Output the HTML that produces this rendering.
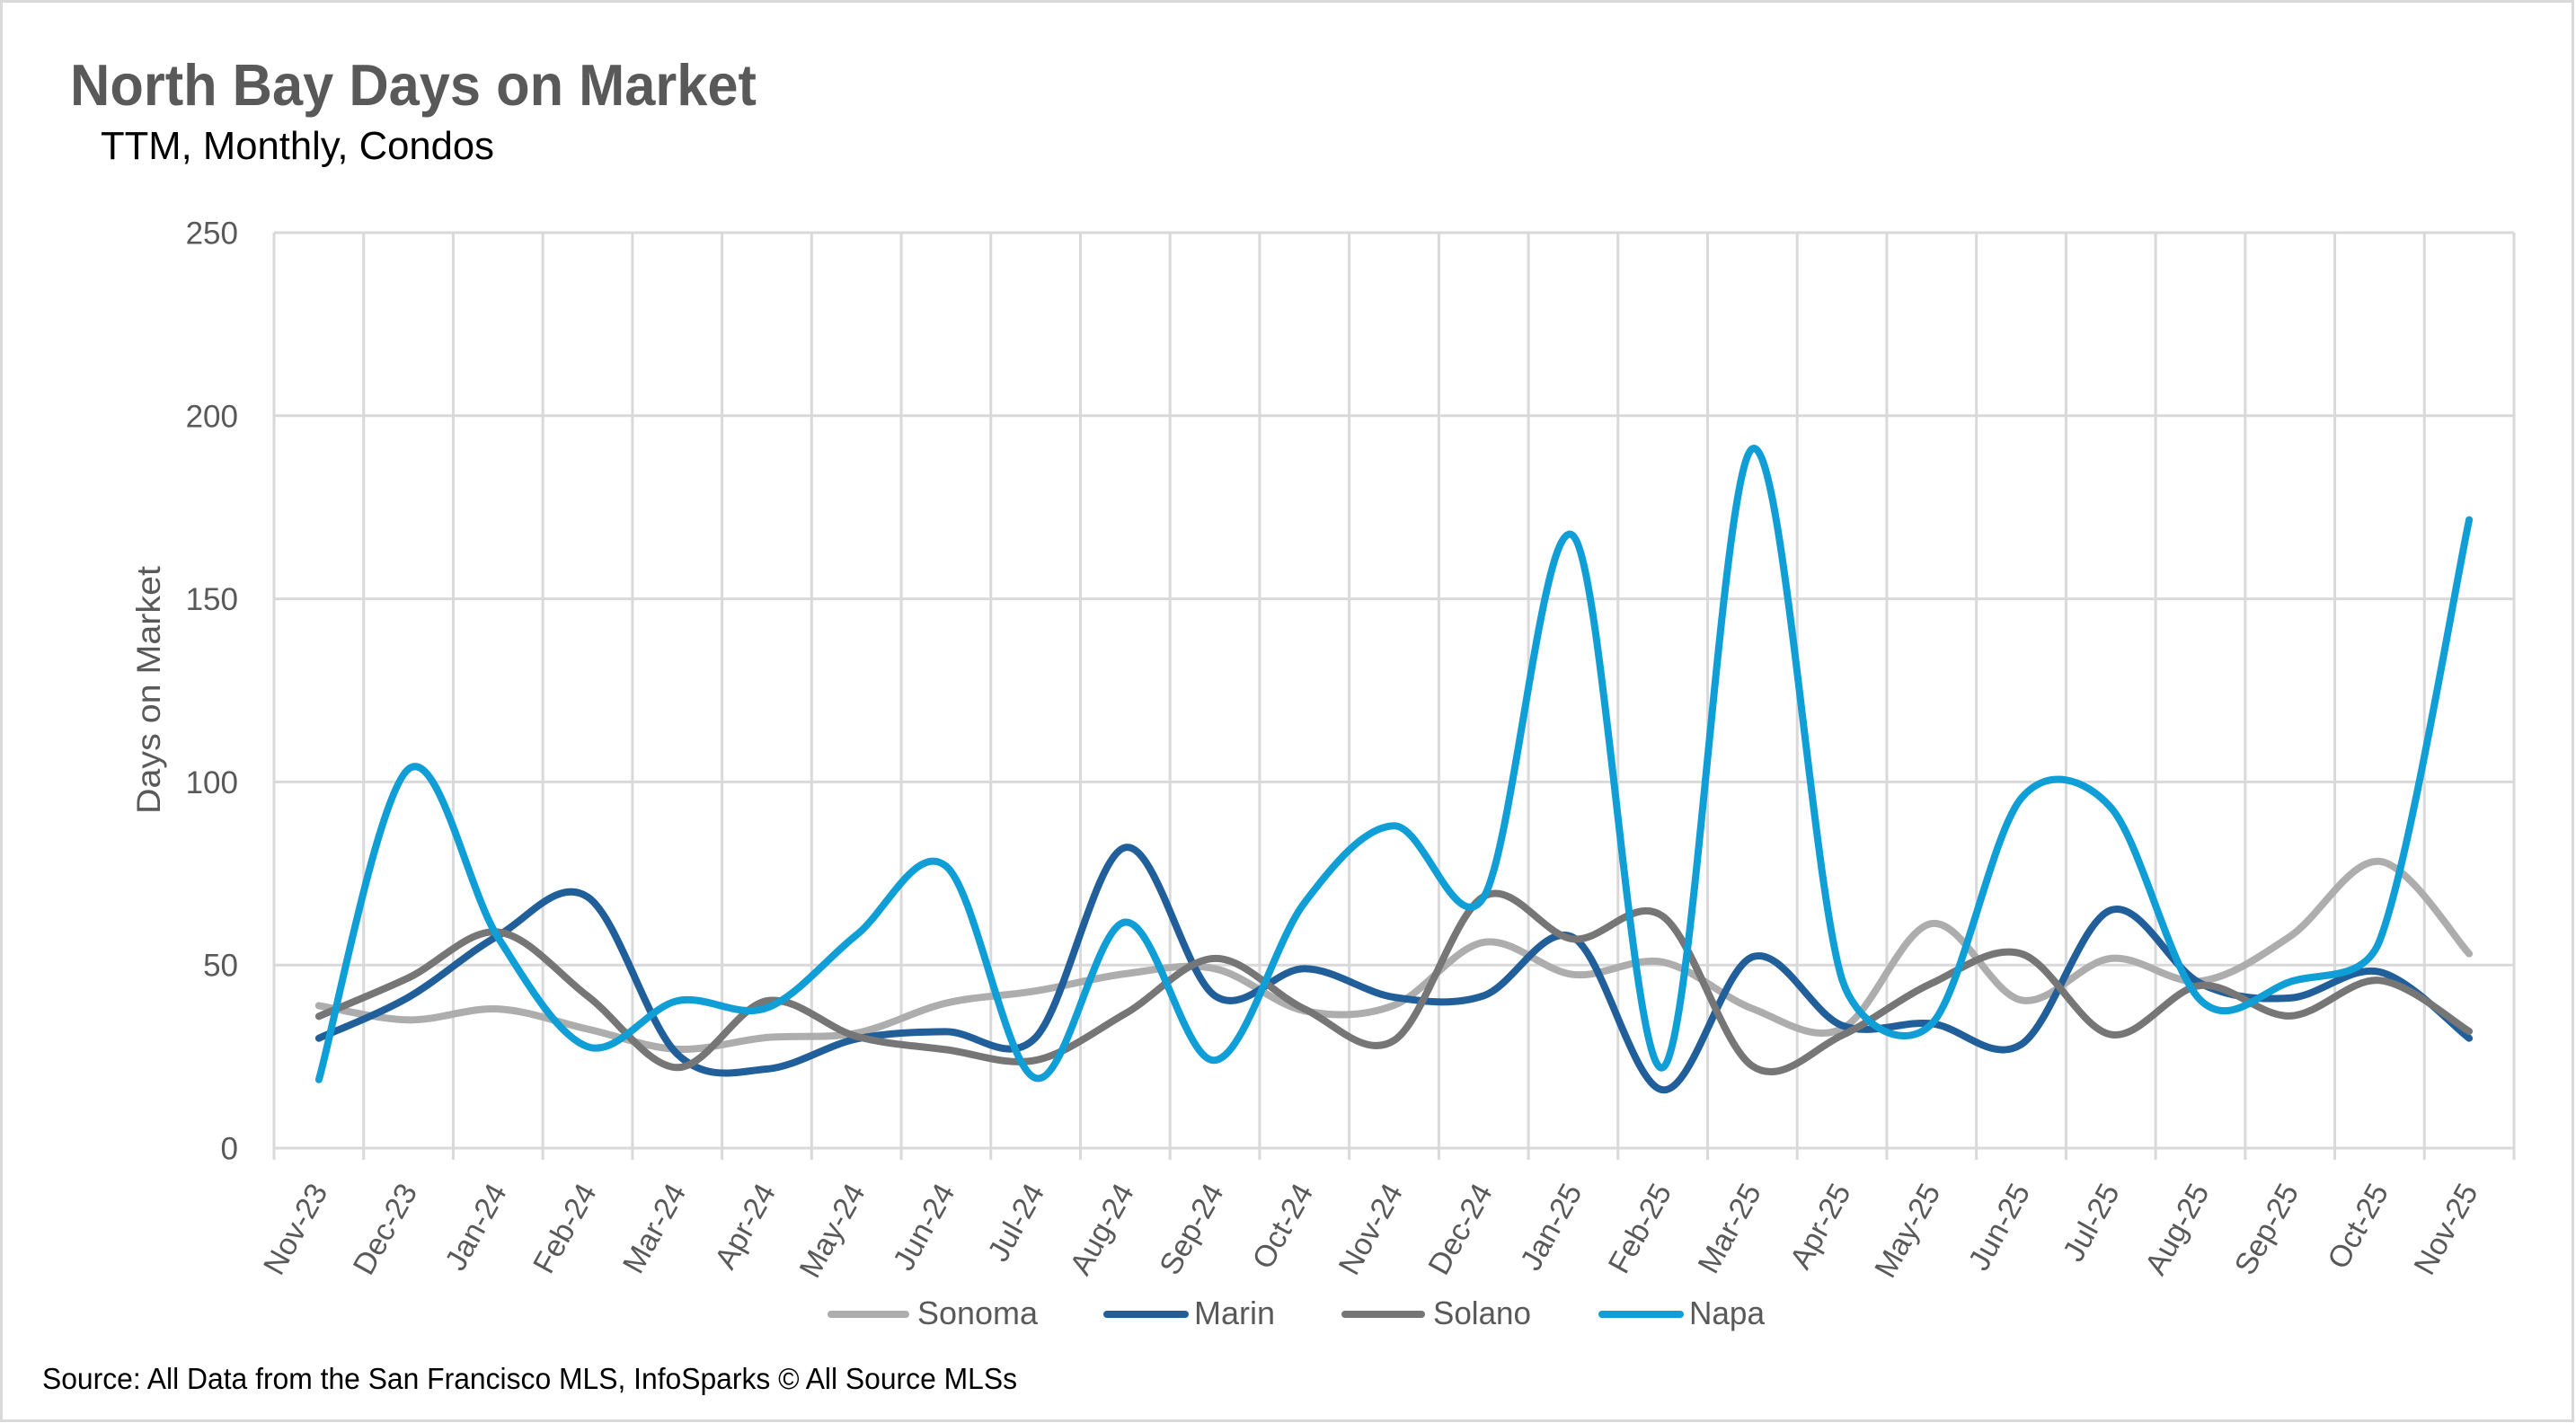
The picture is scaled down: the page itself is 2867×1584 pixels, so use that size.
<!DOCTYPE html>
<html>
<head>
<meta charset="utf-8">
<style>
html,body{margin:0;padding:0;background:#fff;}
svg{display:block;}
text{font-family:"Liberation Sans",Arial,sans-serif;}
</style>
</head>
<body>
<svg id="chart" width="2867" height="1584" viewBox="0 0 2867 1584" xmlns="http://www.w3.org/2000/svg">
<rect x="0" y="0" width="2867" height="1584" fill="#ffffff"/>
<rect x="1.5" y="1.5" width="2862" height="1580" fill="none" stroke="#d9d9d9" stroke-width="3"/>

<text x="78" y="117" font-size="65" font-weight="bold" fill="#595959" textLength="764" lengthAdjust="spacingAndGlyphs">North Bay Days on Market</text>
<text x="112" y="177" font-size="43.5" fill="#000000" textLength="438" lengthAdjust="spacingAndGlyphs">TTM, Monthly, Condos</text>

<g id="grid" stroke="#d9d9d9" stroke-width="3" fill="none"></g>

<g font-size="35" fill="#595959" text-anchor="end">
<text x="265" y="271.5">250</text>
<text x="265" y="475.3">200</text>
<text x="265" y="679.1">150</text>
<text x="265" y="882.9">100</text>
<text x="265" y="1086.7">50</text>
<text x="265" y="1290.5">0</text>
</g>

<text transform="translate(178,768) rotate(-90)" x="0" y="0" font-size="37" fill="#595959" text-anchor="middle" textLength="276" lengthAdjust="spacingAndGlyphs">Days on Market</text>

<g font-size="34" fill="#595959" text-anchor="end">
<text transform="translate(355.0,1320) rotate(-61)" dy="0.35em">Nov-23</text>
<text transform="translate(454.7,1320) rotate(-61)" dy="0.35em">Dec-23</text>
<text transform="translate(554.4,1320) rotate(-61)" dy="0.35em">Jan-24</text>
<text transform="translate(654.2,1320) rotate(-61)" dy="0.35em">Feb-24</text>
<text transform="translate(753.9,1320) rotate(-61)" dy="0.35em">Mar-24</text>
<text transform="translate(853.6,1320) rotate(-61)" dy="0.35em">Apr-24</text>
<text transform="translate(953.3,1320) rotate(-61)" dy="0.35em">May-24</text>
<text transform="translate(1053.0,1320) rotate(-61)" dy="0.35em">Jun-24</text>
<text transform="translate(1152.8,1320) rotate(-61)" dy="0.35em">Jul-24</text>
<text transform="translate(1252.5,1320) rotate(-61)" dy="0.35em">Aug-24</text>
<text transform="translate(1352.2,1320) rotate(-61)" dy="0.35em">Sep-24</text>
<text transform="translate(1451.9,1320) rotate(-61)" dy="0.35em">Oct-24</text>
<text transform="translate(1551.6,1320) rotate(-61)" dy="0.35em">Nov-24</text>
<text transform="translate(1651.4,1320) rotate(-61)" dy="0.35em">Dec-24</text>
<text transform="translate(1751.1,1320) rotate(-61)" dy="0.35em">Jan-25</text>
<text transform="translate(1850.8,1320) rotate(-61)" dy="0.35em">Feb-25</text>
<text transform="translate(1950.5,1320) rotate(-61)" dy="0.35em">Mar-25</text>
<text transform="translate(2050.2,1320) rotate(-61)" dy="0.35em">Apr-25</text>
<text transform="translate(2150.0,1320) rotate(-61)" dy="0.35em">May-25</text>
<text transform="translate(2249.7,1320) rotate(-61)" dy="0.35em">Jun-25</text>
<text transform="translate(2349.4,1320) rotate(-61)" dy="0.35em">Jul-25</text>
<text transform="translate(2449.1,1320) rotate(-61)" dy="0.35em">Aug-25</text>
<text transform="translate(2548.8,1320) rotate(-61)" dy="0.35em">Sep-25</text>
<text transform="translate(2648.6,1320) rotate(-61)" dy="0.35em">Oct-25</text>
<text transform="translate(2748.3,1320) rotate(-61)" dy="0.35em">Nov-25</text>
</g>

<g id="series" fill="none" stroke-width="8" stroke-linecap="round" stroke-linejoin="round"></g>

<g stroke-width="8" stroke-linecap="round">
<line x1="925" y1="1463" x2="1008" y2="1463" stroke="#adadad"/>
<line x1="1232" y1="1463" x2="1319" y2="1463" stroke="#215f9a"/>
<line x1="1497" y1="1463" x2="1582" y2="1463" stroke="#767676"/>
<line x1="1783" y1="1463" x2="1870" y2="1463" stroke="#0f9ed5"/>
</g>
<g font-size="36" fill="#595959">
<text x="1021" y="1474" textLength="134" lengthAdjust="spacingAndGlyphs">Sonoma</text>
<text x="1329" y="1474" textLength="90" lengthAdjust="spacingAndGlyphs">Marin</text>
<text x="1595" y="1474" textLength="109" lengthAdjust="spacingAndGlyphs">Solano</text>
<text x="1880" y="1474" textLength="84" lengthAdjust="spacingAndGlyphs">Napa</text>
</g>

<text x="47" y="1546" font-size="33" fill="#000000" textLength="1085" lengthAdjust="spacingAndGlyphs">Source: All Data from the San Francisco MLS, InfoSparks © All Source MLSs</text>
</svg>
<script>
(function(){
  var NS="http://www.w3.org/2000/svg";
  var X0=305, STEP=99.72, Y0=1278, K=4.076;
  var grid=document.getElementById('grid');
  function ln(x1,y1,x2,y2){var l=document.createElementNS(NS,'line');l.setAttribute('x1',x1);l.setAttribute('y1',y1);l.setAttribute('x2',x2);l.setAttribute('y2',y2);grid.appendChild(l);}
  for(var k=0;k<=25;k++){var x=X0+STEP*k; ln(x,259,x,1291);}
  for(var j=0;j<=5;j++){var y=Y0-j*50*K; ln(X0,y,X0+STEP*25,y);}
  var data={
    sonoma:[38.9,35,38,32.5,27,30.2,31.4,39.6,42.9,47.6,49,37.5,39,56.2,47.4,50.8,38.1,32.6,61.3,40.4,51.8,45.6,57.8,78.3,53.1],
    marin:[30,41.2,58,68.6,25.7,21.6,29.8,31.8,30.2,82.1,41.6,49,41.2,41.6,57.5,15.9,52.2,33.5,34,28.3,65,45,41,48.1,30],
    solano:[36,46.5,59,41.5,22,40.2,30.5,26.9,24,36.7,51.8,38,29.4,68.7,57.1,63.3,22.4,30.8,45,53.1,31,44.4,36.1,45.8,31.9],
    napa:[18.7,103.5,57.5,27.7,40.2,38.3,58.2,77,19.1,61.7,24,67,88,68.5,167.2,22,191,46.1,33.9,95.5,93,40.4,45.4,56.6,171.6]
  };
  var colors={sonoma:'#adadad',marin:'#215f9a',solano:'#767676',napa:'#0f9ed5'};
  var g=document.getElementById('series');
  function clamp(off, seg, k){
    var L=Math.sqrt(off[0]*off[0]+off[1]*off[1]);
    var lim=k*seg;
    if(L>lim && L>0){var s=lim/L; return [off[0]*s, off[1]*s];}
    return off;
  }
  ['sonoma','marin','solano','napa'].forEach(function(s){
    var v=data[s];
    var p=v.map(function(val,i){return [X0+STEP*(i+0.5), Y0-val*K];});
    var d='M'+p[0][0].toFixed(1)+','+p[0][1].toFixed(1);
    for(var i=0;i<p.length-1;i++){
      var a=p[i-1]||p[i], b=p[i], c=p[i+1], e=p[i+2]||p[i+1];
      var seg=Math.sqrt((c[0]-b[0])*(c[0]-b[0])+(c[1]-b[1])*(c[1]-b[1]));
      var o1=clamp([(c[0]-a[0])/6,(c[1]-a[1])/6],seg,0.45);
      var o2=clamp([(e[0]-b[0])/6,(e[1]-b[1])/6],seg,0.45);
      var c1=[b[0]+o1[0], b[1]+o1[1]];
      var c2=[c[0]-o2[0], c[1]-o2[1]];
      d+=' C'+c1[0].toFixed(1)+','+c1[1].toFixed(1)+' '+c2[0].toFixed(1)+','+c2[1].toFixed(1)+' '+c[0].toFixed(1)+','+c[1].toFixed(1);
    }
    var path=document.createElementNS(NS,'path');
    path.setAttribute('d',d);
    path.setAttribute('stroke',colors[s]);
    g.appendChild(path);
  });
})();
</script>
</body>
</html>
